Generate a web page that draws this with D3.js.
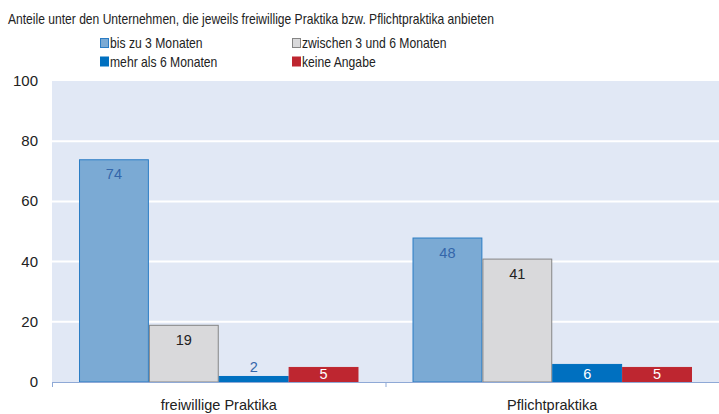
<!DOCTYPE html>
<html>
<head>
<meta charset="utf-8">
<script src="https://cdn.jsdelivr.net/npm/d3@7"></script>
<style>
  body { margin: 0; background: #fff; }
  svg { font-family: "Liberation Sans", Arial, sans-serif; }
</style>
</head>
<body>
<div id="chart"></div>
<script>
(function () {
// data
const groups = ["freiwillige Praktika", "Pflichtpraktika"];
const seriesNames = ["bis zu 3 Monaten", "zwischen 3 und 6 Monaten", "mehr als 6 Monaten", "keine Angabe"];
const values = [
  [74, 19, 2, 5],
  [48, 41, 6, 5]
];
const yTicks = [0, 20, 40, 60, 80, 100];
const title = "Anteile unter den Unternehmen, die jeweils freiwillige Praktika bzw. Pflichtpraktika anbieten";

const fills = ["#7BAAD4", "#D9D9DB", "#0070C0", "#BE2630"];
const strokes = ["#2A7CC4", "#858585", "#0070C0", "#BE2630"];
const labelColors = ["#3466AA", "#222", "#fff", "#fff"];

const svgWidth = 719, svgHeight = 414;
const margin = { top: 81, right: 0, bottom: 32, left: 52 };
const width = svgWidth - margin.left - margin.right;
const height = svgHeight - margin.top - margin.bottom;

const root = d3.select("#chart").append("svg")
  .attr("width", svgWidth)
  .attr("height", svgHeight);

// the original uses a condensed face; squeeze the text horizontally
function condense(sel, factor) {
  sel.each(function () {
    const w = this.getComputedTextLength();
    d3.select(this)
      .attr("textLength", w * factor)
      .attr("lengthAdjust", "spacingAndGlyphs");
  });
}

// title
root.append("text")
  .attr("x", 8)
  .attr("y", 24)
  .style("font-size", "15px")
  .attr("fill", "#222")
  .text(title)
  .call(condense, 0.805);

// legend
const legendPos = [[100, 43], [292, 43], [100, 61.5], [292, 61.5]];
seriesNames.forEach((name, i) => {
  const g = root.append("g")
    .attr("transform", `translate(${legendPos[i][0]}, ${legendPos[i][1]})`);
  g.append("rect")
    .attr("x", 0.5).attr("y", -4.5)
    .attr("width", 8).attr("height", 9)
    .attr("fill", fills[i])
    .attr("stroke", strokes[i]);
  g.append("text")
    .attr("x", 10)
    .attr("y", 5)
    .style("font-size", "15px")
    .attr("fill", "#222")
    .text(name)
    .call(condense, 0.81);
});

const svg = root.append("g")
  .attr("transform", `translate(${margin.left}, ${margin.top})`);

// scales
const x0 = d3.scaleBand()
  .domain(groups)
  .range([0, width])
  .paddingInner(0.162)
  .paddingOuter(0.081);

const x1 = d3.scaleBand()
  .domain(d3.range(seriesNames.length))
  .range([0, x0.bandwidth()]);

const y = d3.scaleLinear()
  .domain([0, 100])
  .range([height, 0]);

// background
svg.append("rect")
  .attr("width", width)
  .attr("height", height)
  .attr("fill", "#E1E8F5");

// grid
svg.selectAll(".grid")
  .data(yTicks.filter(d => d > 0 && d < 100))
  .join("line")
  .attr("x1", 0).attr("x2", width)
  .attr("y1", d => y(d)).attr("y2", d => y(d))
  .attr("stroke", "#fff")
  .attr("stroke-width", 2);

// y tick labels
svg.selectAll(".ytick")
  .data(yTicks)
  .join("text")
  .attr("x", -14)
  .attr("y", d => y(d) + 5)
  .attr("text-anchor", "end")
  .style("font-size", "15px")
  .attr("fill", "#222")
  .text(d => d);

// bars
const group = svg.selectAll(".group")
  .data(values)
  .join("g")
  .attr("transform", (d, i) => `translate(${x0(groups[i])}, 0)`);

group.selectAll("rect")
  .data(d => d)
  .join("rect")
  .attr("x", (d, i) => x1(i) + 0.5)
  .attr("y", d => y(d) + 0.5)
  .attr("width", x1.bandwidth() - 1)
  .attr("height", d => height - y(d) - 0.5)
  .attr("fill", (d, i) => fills[i])
  .attr("stroke", (d, i) => strokes[i]);

// value labels: inside the bar, or above it when the bar is too short
group.selectAll("text")
  .data(d => d)
  .join("text")
  .attr("x", (d, i) => x1(i) + x1.bandwidth() / 2)
  .attr("y", d => d < 4 ? y(d) - 4 : Math.min(y(d) + 20, height - 3))
  .attr("text-anchor", "middle")
  .style("font-size", "14.5px")
  .attr("fill", (d, i) => d < 4 ? labelColors[0] : labelColors[i])
  .text(d => d);

// x axis
svg.append("line")
  .attr("x1", 0).attr("x2", width)
  .attr("y1", height + 0.5).attr("y2", height + 0.5)
  .attr("stroke", "#8FA9D6");

const sep = [0, x0.step()];
svg.selectAll(".xtick")
  .data(sep)
  .join("line")
  .attr("x1", d => d + 0.5).attr("x2", d => d + 0.5)
  .attr("y1", height).attr("y2", height + 5)
  .attr("stroke", "#8FA9D6");

svg.selectAll(".xlabel")
  .data(groups)
  .join("text")
  .attr("x", d => x0(d) + x0.bandwidth() / 2)
  .attr("y", height + 28)
  .attr("text-anchor", "middle")
  .style("font-size", "14.5px")
  .attr("fill", "#222")
  .text(d => d);
})();
</script>
</body>
</html>
